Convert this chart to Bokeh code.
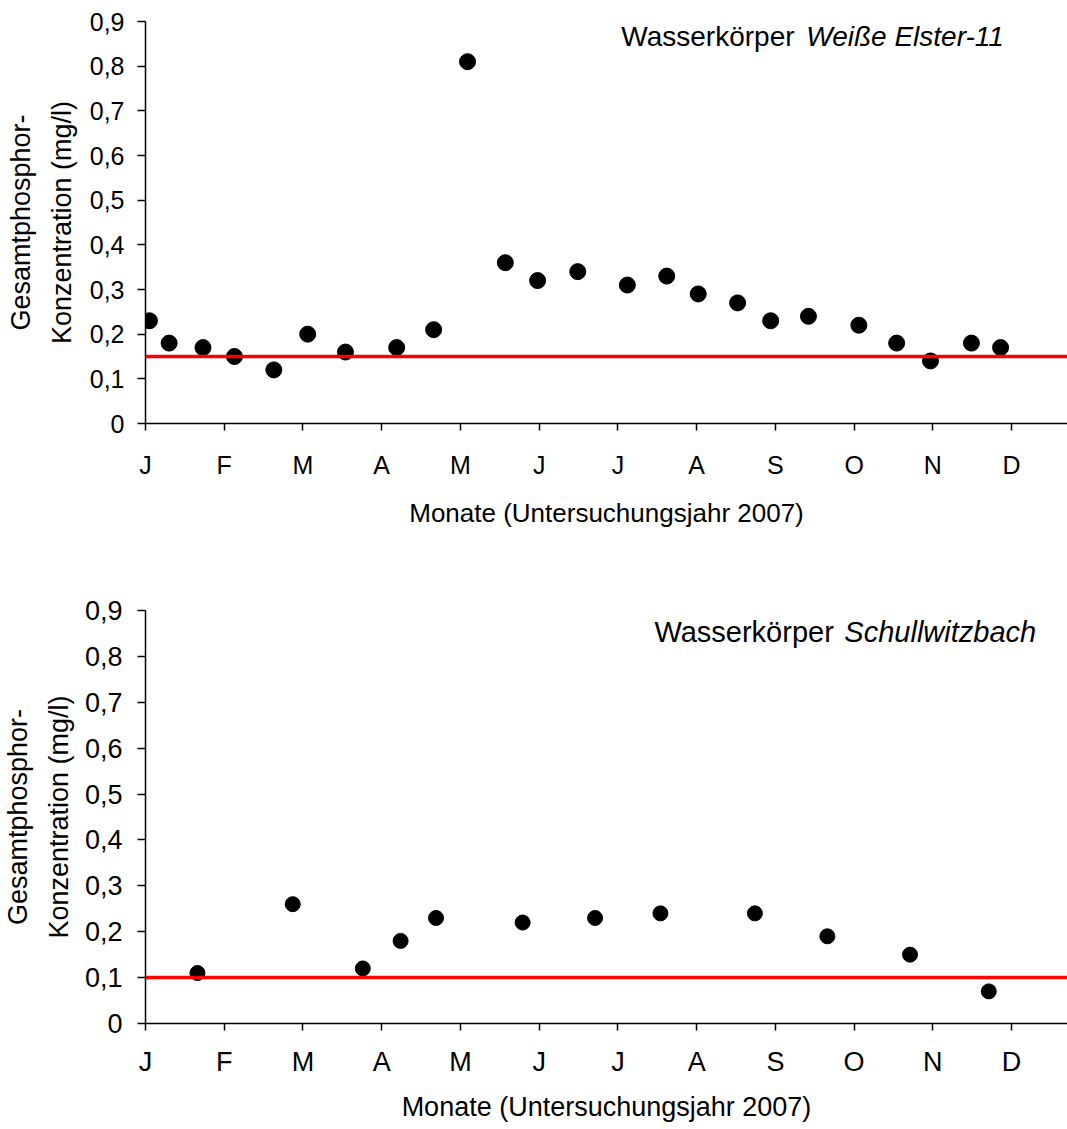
from bokeh.plotting import figure
from bokeh.models import Range1d, Span, Label
from bokeh.layouts import column
from bokeh.embed import file_html
from bokeh.resources import INLINE

# ---------------- data ----------------
month_ticks = [0, 1, 2, 3, 4, 5, 6, 7, 8, 9, 10, 11]
month_labels = ["J", "F", "M", "A", "M", "J", "J", "A", "S", "O", "N", "D"]

y_ticks = [0, 0.1, 0.2, 0.3, 0.4, 0.5, 0.6, 0.7, 0.8, 0.9]
y_tick_labels = ["0", "0,1", "0,2", "0,3", "0,4", "0,5", "0,6", "0,7", "0,8", "0,9"]

# Weiße Elster-11 (x = months since 1 Jan 2007)
we_month = [0.05, 0.30, 0.73, 1.13, 1.63, 2.06, 2.54, 3.19, 3.66, 4.09, 4.57, 4.98,
            5.49, 6.12, 6.62, 7.02, 7.52, 7.94, 8.42, 9.06, 9.54, 9.97, 10.49, 10.86]
we_value = [0.23, 0.18, 0.17, 0.15, 0.12, 0.20, 0.16, 0.17, 0.21, 0.81, 0.36, 0.32,
            0.34, 0.31, 0.33, 0.29, 0.27, 0.23, 0.24, 0.22, 0.18, 0.14, 0.18, 0.17]
we_threshold = 0.15

# Schullwitzbach
sw_month = [0.66, 1.87, 2.76, 3.24, 3.69, 4.79, 5.71, 6.54, 7.74, 8.66, 9.71, 10.71]
sw_value = [0.11, 0.26, 0.12, 0.18, 0.23, 0.22, 0.23, 0.24, 0.24, 0.19, 0.15, 0.07]
sw_threshold = 0.10

x_title = "Monate (Untersuchungsjahr 2007)"
y_title = "Gesamtphosphor-\nKonzentration (mg/l)"
we_name = ("Wasserkörper", "Weiße Elster-11")
sw_name = ("Wasserkörper", "Schullwitzbach")

FONT = "Liberation Sans"
X_END = 11.71


def make_plot(months, values, threshold, name, height, top, bottom,
              tick_fs, title_fs, ytitle_fs, name_fs, name_pos, dot,
              xlab_standoff, xtitle_standoff, ylab_standoff, ytitle_standoff):
    p = figure(width=1067, height=height, output_backend="svg", toolbar_location=None,
               x_range=Range1d(0, X_END), y_range=Range1d(0, 0.9),
               min_border_left=145, min_border_right=0,
               min_border_top=top, min_border_bottom=bottom)
    p.outline_line_color = None
    p.grid.visible = False
    p.background_fill_color = "white"

    p.xaxis.ticker = month_ticks
    p.xaxis.major_label_overrides = {t: l for t, l in zip(month_ticks, month_labels)}
    p.yaxis.ticker = y_ticks
    p.yaxis.major_label_overrides = {t: l for t, l in zip(y_ticks, y_tick_labels)}

    for ax in (p.xaxis, p.yaxis):
        ax.axis_line_color = "black"
        ax.axis_line_width = 1.5
        ax.major_tick_line_color = "black"
        ax.major_tick_line_width = 1.5
        ax.major_tick_in = 0
        ax.minor_tick_line_color = None
        ax.major_label_text_font = FONT
        ax.major_label_text_font_size = f"{tick_fs}px"
        ax.major_label_text_color = "black"
        ax.axis_label_text_font = FONT
        ax.axis_label_text_font_style = "normal"
        ax.axis_label_text_color = "black"
    p.xaxis.axis_label_text_font_size = f"{title_fs}px"
    p.yaxis.axis_label_text_font_size = f"{ytitle_fs}px"
    p.xaxis.major_tick_out = 7
    p.yaxis.major_tick_out = 8
    p.xaxis.major_label_standoff = xlab_standoff
    p.xaxis.axis_label_standoff = xtitle_standoff
    p.yaxis.major_label_standoff = ylab_standoff
    p.yaxis.axis_label_standoff = ytitle_standoff
    p.xaxis.axis_label = x_title
    p.yaxis.axis_label = y_title
    p.yaxis.axis_label_text_line_height = 1.35

    p.add_layout(Span(location=threshold, dimension="width",
                      line_color="#FF0000", line_width=3.5))
    p.scatter(months, values, size=dot, marker="circle",
              fill_color="black", line_color="black")

    (xa, xb, yb) = name_pos
    p.add_layout(Label(x=xa, y=yb, text=name[0], text_align="right",
                       text_baseline="alphabetic", text_font=FONT,
                       text_font_size=f"{name_fs}px", text_color="black"))
    p.add_layout(Label(x=xb, y=yb, text=name[1], text_align="left",
                       text_baseline="alphabetic", text_font=FONT,
                       text_font_style="italic",
                       text_font_size=f"{name_fs}px", text_color="black"))
    return p


p1 = make_plot(we_month, we_value, we_threshold, we_name, height=560, top=21, bottom=137,
               tick_fs=25, title_fs=26, ytitle_fs=27, name_fs=28,
               name_pos=(8.243, 8.392, 0.8655), dot=16,
               xlab_standoff=20, xtitle_standoff=16, ylab_standoff=13, ytitle_standoff=10)
p2 = make_plot(sw_month, sw_value, sw_threshold, sw_name, height=569, top=50, bottom=106,
               tick_fs=27, title_fs=27, ytitle_fs=27, name_fs=29,
               name_pos=(8.742, 8.876, 0.854), dot=15,
               xlab_standoff=16, xtitle_standoff=12, ylab_standoff=15, ytitle_standoff=8)

layout = column(p1, p2)
open("out.html", "w").write(file_html(layout, INLINE))
